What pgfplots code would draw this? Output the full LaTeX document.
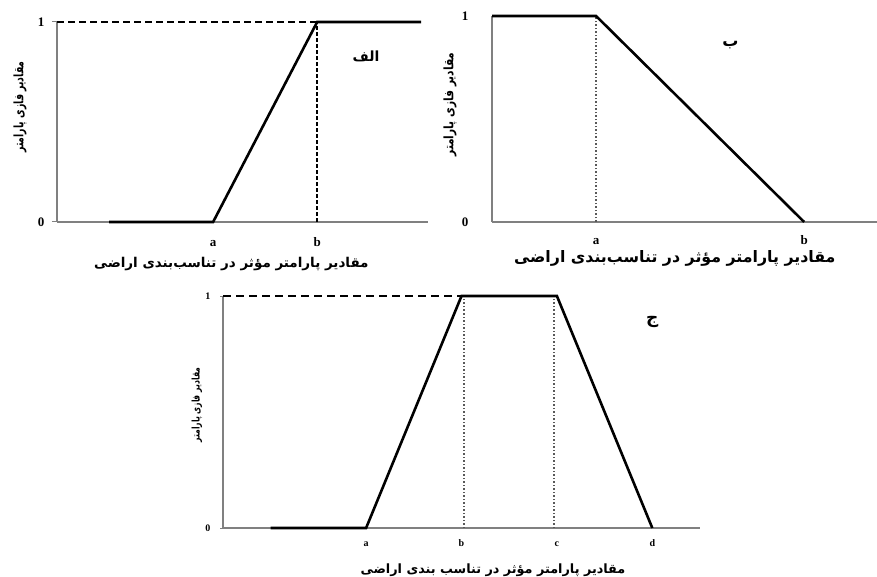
\documentclass[border=0pt]{standalone}
\usepackage{graphicx}
\usepackage{pgfplots}
\pgfplotsset{compat=1.18}
\usepackage{fontspec}
\setmainfont{Liberation Serif}
\newfontfamily\fa[Script=Arabic]{DejaVu Sans}
\TeXXeTstate=1
\newcommand{\fat}[1]{{\fa\bfseries #1}}
\newcommand{\xlab}{\beginR مقادیر پارامتر مؤثر در تناسب‌بندی اراضی\endR}
\newcommand{\ylab}{\beginR مقادیر فازی پارامتر\endR}

\pgfplotsset{
  fuzzy/.style={
    scale only axis, anchor=south west, clip=false,
    axis lines=left,
    axis line style={-, draw=gray, line width=1.2pt},
    xmin=0, ymin=0, ymax=1,
    ytick={0,1}, yticklabels={0,1},
    xtick style={draw=none},
    ytick style={draw=gray, line width=1pt},
    tick align=outside, major tick length=5pt,
    tick label style={font=\bfseries\fontsize{13}{13}\selectfont},
    xticklabel style={text height=1.6ex, text depth=0.3ex},
    xlabel style={anchor=center},
  },
  mf/.style={black, line width=2.6pt},
  guide/.style={black, line width=1.2pt, dash pattern=on 7pt off 4pt},
  dots/.style={gray!70!black, line width=1.4pt, dash pattern=on 1.5pt off 2pt},
}

\begin{document}
\begin{tikzpicture}
\path[use as bounding box] (0,0) rectangle (877pt,576pt);

% panel alef: increasing
\begin{axis}[fuzzy, at={(57pt,354pt)}, width=371pt, height=200pt,
  xmax=7.13, xtick={3,5}, xticklabels={a,b},
  xticklabel style={yshift=-9pt}, yticklabel style={xshift=-4pt},
  xlabel={\fat{\xlab}},
  xlabel style={at={([yshift=-42pt]rel axis cs:0.47,0)}, font=\fontsize{13.5}{14}\selectfont},
]
\addplot[guide] coordinates {(0,1) (5,1)};
\addplot[black, line width=1.4pt, dash pattern=on 3.5pt off 2.5pt] coordinates {(5,0) (5,1)};
\addplot[mf] coordinates {(1,0) (3,0) (5,1) (7,1)};
\node[font=\fontsize{14}{14}\selectfont] at (axis cs:5.94,0.83) {\fat{\beginR الف\endR}};
\node[rotate=90, font=\fontsize{13}{13}\selectfont] at ([xshift=-37pt]rel axis cs:0,0.575) {\scalebox{0.72}[1]{\fat{\ylab}}};
\end{axis}

% panel be: decreasing
\begin{axis}[fuzzy, at={(492pt,354pt)}, width=385pt, height=206pt,
  xmax=7.4, xtick={2,6}, xticklabels={a,b},
  major tick length=0pt,
  xticklabel style={yshift=-12pt}, yticklabel style={xshift=-20pt},
  xlabel={\fat{\xlab}},
  xlabel style={at={([yshift=-36pt]rel axis cs:0.475,0)}, font=\fontsize{15.8}{16}\selectfont},
]
\addplot[dots] coordinates {(2,0) (2,1)};
\addplot[mf] coordinates {(0,1) (2,1) (6,0)};
\node[font=\fontsize{16}{16}\selectfont] at (axis cs:4.58,0.86) {\fat{\beginR ب\endR}};
\node[rotate=90, font=\fontsize{13}{13}\selectfont] at ([xshift=-42pt]rel axis cs:0,0.57) {\scalebox{0.82}[1]{\fat{\ylab}}};
\end{axis}

% panel jim: trapezoid
\begin{axis}[fuzzy, at={(223pt,48pt)}, width=477pt, height=232pt,
  xmax=10, xtick={3,5,7,9}, xticklabels={a,b,c,d},
  major tick length=3pt,
  tick label style={font=\bfseries\fontsize{10}{10}\selectfont},
  xticklabel style={yshift=-5pt}, yticklabel style={xshift=-6pt},
  xlabel={\fat{\beginR مقادیر پارامتر مؤثر در تناسب بندی اراضی\endR}},
  xlabel style={at={([yshift=-42pt]rel axis cs:0.566,0)}, font=\fontsize{12.8}{13}\selectfont},
]
\addplot[black, line width=1.2pt, dash pattern=on 8pt off 5pt] coordinates {(0,1) (5,1)};
\addplot[dots] coordinates {(5.05,0) (5.05,1)};
\addplot[dots] coordinates {(6.94,0) (6.94,1)};
\addplot[mf] coordinates {(1,0) (3,0) (5,1) (7,1) (9,0)};
\node[font=\fontsize{17}{17}\selectfont] at (axis cs:9.0,0.89) {\fat{\beginR ج\endR}};
\node[rotate=90, font=\fontsize{10.5}{11}\selectfont] at ([xshift=-26pt]rel axis cs:0,0.53) {\scalebox{0.73}[1]{\fat{\ylab}}};
\end{axis}
\end{tikzpicture}
\end{document}
